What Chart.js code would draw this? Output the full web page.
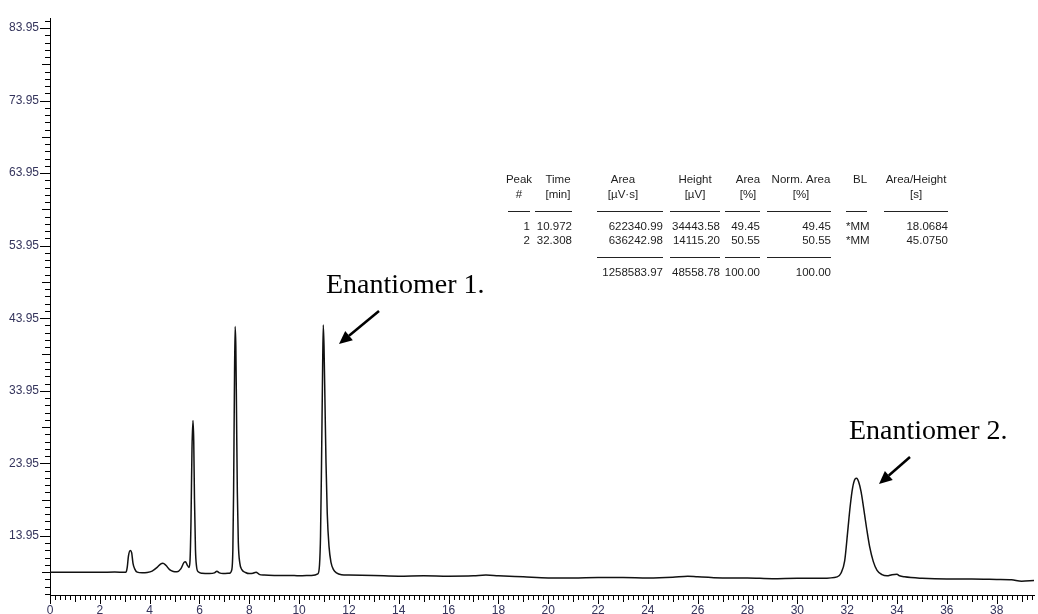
<!DOCTYPE html>
<html>
<head>
<meta charset="utf-8">
<script src="https://cdn.jsdelivr.net/npm/chart.js@4.4.1/dist/chart.umd.min.js"></script>
<style>
html,body{margin:0;padding:0;background:#fff;}
#wrap{position:relative;width:1038px;height:614px;}
canvas{display:block;}
</style>
</head>
<body>
<div id="wrap"><canvas id="c" width="1038" height="614"></canvas></div>
<script>
// ---- data ----
const retentionTime = [
  0, 1.0, 2.0, 2.6, 3.0, 3.05, 3.1, 3.15, 3.22, 3.28, 3.33, 3.4, 3.5, 3.7, 3.9,
  4.1, 4.3, 4.45, 4.53, 4.65, 4.8, 4.95, 5.1, 5.25, 5.38, 5.44, 5.5, 5.58,
  5.62, 5.66, 5.7, 5.74, 5.77, 5.8, 5.84, 5.88, 5.95, 6.1, 6.4, 6.6, 6.7, 6.8, 6.95,
  7.2, 7.3, 7.34, 7.37, 7.4, 7.43, 7.46, 7.49, 7.52, 7.56, 7.62, 7.7, 7.85, 8.0,
  8.15, 8.27, 8.4, 8.6, 9.0, 9.6, 10.0, 10.5, 10.75, 10.82, 10.86, 10.9, 10.94,
  10.97, 11.0, 11.04, 11.08, 11.13, 11.2, 11.28, 11.38, 11.5, 11.7, 12.0, 13.0,
  14.0, 15.0, 16.0, 17.0, 17.5, 18.0, 19.0, 20.0, 21.0, 22.0, 23.0, 24.0, 25.0,
  25.6, 26.0, 27.0, 28.0, 29.0, 30.0, 31.0, 31.6, 31.75, 31.9, 32.02, 32.12,
  32.22, 32.32, 32.38, 32.46, 32.56, 32.66, 32.78, 32.9, 33.05, 33.2, 33.4, 33.6,
  33.8, 34.0, 34.1, 34.3, 35.0, 36.0, 37.0, 38.0, 38.6, 39.0, 39.5
];
const signal = [
  8.95, 8.95, 8.93, 8.97, 8.92, 8.95, 9.6, 11.2, 11.95, 11.6, 10.2, 9.4, 8.95, 8.85, 8.9,
  9.1, 9.6, 10.1, 10.17, 9.9, 9.3, 9.05, 9.0, 9.4, 10.3, 10.4, 10.0, 9.6,
  10.5, 16.0, 26.0, 29.85, 27.0, 19.0, 12.0, 9.8, 9.0, 8.8, 8.75, 8.85, 9.08, 8.85, 8.75,
  8.8, 9.3, 12.0, 20.0, 33.0, 42.8, 40.0, 30.0, 20.0, 13.0, 10.2, 9.3, 8.9, 8.75,
  8.8, 8.95, 8.65, 8.55, 8.5, 8.5, 8.45, 8.5, 8.7, 10.0, 14.0, 24.0, 36.0,
  43.0, 40.0, 32.0, 24.0, 17.0, 12.5, 10.3, 9.3, 8.85, 8.6, 8.55, 8.5,
  8.4, 8.45, 8.4, 8.45, 8.55, 8.45, 8.3, 8.15, 8.15, 8.2, 8.2, 8.15, 8.25,
  8.4, 8.3, 8.15, 8.15, 8.05, 8.1, 8.1, 8.3, 8.8, 10.5, 14.5, 18.0,
  20.6, 21.8, 21.9, 21.4, 20.0, 17.8, 15.0, 12.5, 10.4, 9.2, 8.6, 8.45,
  8.6, 8.65, 8.45, 8.3, 8.1, 8.0, 8.0, 7.95, 7.9, 7.7, 7.8
];
const xTickLabels = [0, 2, 4, 6, 8, 10, 12, 14, 16, 18, 20, 22, 24, 26, 28, 30, 32, 34, 36, 38];
const yTickLabels = [13.95, 23.95, 33.95, 43.95, 53.95, 63.95, 73.95, 83.95];

const tableHeader1 = ['Peak', 'Time', 'Area', 'Height', 'Area', 'Norm. Area', 'BL', 'Area/Height'];
const tableHeader2 = ['#', '[min]', '[\u00b5V\u00b7s]', '[\u00b5V]', '[%]', '[%]', '', '[s]'];
const tableRow1 = ['1', '10.972', '622340.99', '34443.58', '49.45', '49.45', '*MM', '18.0684'];
const tableRow2 = ['2', '32.308', '636242.98', '14115.20', '50.55', '50.55', '*MM', '45.0750'];
const tableTotals = ['', '', '1258583.97', '48558.78', '100.00', '100.00', '', ''];
const peakLabels = ['Enantiomer 1.', 'Enantiomer 2.'];

// ---- layout / style ----
const colLeft   = [508, 535, 597, 670, 725, 767, 846, 884];
const colRight  = [530, 572, 663, 720, 760, 831, 867, 948];
const headCtr   = [519, 558, 623, 695, 748, 801, 860, 916];
const axisColor = '#000';
const labelColor = '#34345c';

const points = retentionTime.map((t, i) => ({x: t, y: signal[i]}));

const decor = {
  id: 'decor',
  afterDraw(chart) {
    const ctx = chart.ctx;
    const xs = chart.scales.x, ys = chart.scales.y;
    const ca = chart.chartArea;
    ctx.save();
    ctx.strokeStyle = axisColor;
    ctx.lineWidth = 1;
    // x ticks (every 0.2)
    ctx.beginPath();
    for (let i = 0; i * 0.2 <= xs.max + 1e-9; i++) {
      const px = Math.round(xs.getPixelForValue(i * 0.2)) + 0.5;
      const len = i % 10 === 0 ? 9 : (i % 5 === 0 ? 7 : 5);
      ctx.moveTo(px, ca.bottom);
      ctx.lineTo(px, ca.bottom + len);
    }
    ctx.stroke();
    // y ticks (every 1)
    ctx.beginPath();
    const base = yTickLabels[0];
    for (let k = -8; base + k <= ys.max; k++) {
      const v = base + k;
      if (v < ys.min) continue;
      const py = Math.round(ys.getPixelForValue(v)) + 0.5;
      const m = ((k % 10) + 10) % 10;
      const len = m === 0 ? 10 : (m === 5 ? 8 : 5);
      ctx.moveTo(ca.left, py);
      ctx.lineTo(ca.left - len, py);
    }
    ctx.stroke();

    // results table
    ctx.fillStyle = '#1e1e1e';
    ctx.font = '11.5px "Liberation Sans", Arial, sans-serif';
    ctx.textBaseline = 'middle';
    const rowsY = {h1: 180, h2: 195, s1: 211, r1: 227, r2: 241, s2: 257, t: 273};
    ctx.textAlign = 'center';
    tableHeader1.forEach((s, i) => ctx.fillText(s, headCtr[i], rowsY.h1));
    tableHeader2.forEach((s, i) => ctx.fillText(s, headCtr[i], rowsY.h2));
    const drawRow = (row, y) => row.forEach((s, i) => {
      if (!s) return;
      if (i === 6) { ctx.textAlign = 'left'; ctx.fillText(s, colLeft[i], y); }
      else { ctx.textAlign = 'right'; ctx.fillText(s, colRight[i], y); }
    });
    drawRow(tableRow1, rowsY.r1);
    drawRow(tableRow2, rowsY.r2);
    drawRow(tableTotals, rowsY.t);
    ctx.strokeStyle = '#222';
    ctx.beginPath();
    colLeft.forEach((l, i) => { ctx.moveTo(l, rowsY.s1 + 0.5); ctx.lineTo(colRight[i], rowsY.s1 + 0.5); });
    [2, 3, 4, 5].forEach(i => { ctx.moveTo(colLeft[i], rowsY.s2 + 0.5); ctx.lineTo(colRight[i], rowsY.s2 + 0.5); });
    ctx.stroke();

    // annotations
    ctx.fillStyle = '#000';
    ctx.font = '28px "Liberation Serif", "Times New Roman", serif';
    ctx.textAlign = 'left';
    ctx.fillText(peakLabels[0], 326, 286);
    ctx.fillText(peakLabels[1], 849, 432);
    const arrow = (x1, y1, x2, y2) => {
      const ang = Math.atan2(y2 - y1, x2 - x1);
      const hl = 13, hw = 6;
      const bx = x2 - hl * Math.cos(ang), by = y2 - hl * Math.sin(ang);
      ctx.strokeStyle = '#000';
      ctx.lineWidth = 2.5;
      ctx.beginPath(); ctx.moveTo(x1, y1); ctx.lineTo(bx, by); ctx.stroke();
      ctx.beginPath();
      ctx.moveTo(x2, y2);
      ctx.lineTo(bx + hw * Math.sin(ang), by - hw * Math.cos(ang));
      ctx.lineTo(bx - hw * Math.sin(ang), by + hw * Math.cos(ang));
      ctx.closePath(); ctx.fill();
    };
    arrow(379, 311, 339, 344);
    arrow(910, 457, 879, 484);
    ctx.restore();
  }
};

new Chart(document.getElementById('c'), {
  type: 'line',
  data: {
    datasets: [{
      data: points,
      borderColor: '#111',
      borderWidth: 1.5,
      pointRadius: 0,
      fill: false,
      cubicInterpolationMode: 'monotone'
    }]
  },
  options: {
    responsive: false,
    devicePixelRatio: 1,
    animation: false,
    layout: {padding: {top: 13, right: 4, left: 0, bottom: 0}},
    plugins: {legend: {display: false}, tooltip: {enabled: false}},
    scales: {
      x: {
        type: 'linear',
        min: 0, max: 39.5,
        grid: {display: false, drawTicks: false},
        border: {display: true, color: axisColor, width: 1},
        afterBuildTicks: s => { s.ticks = xTickLabels.map(v => ({value: v})); },
        afterFit: s => { s.height = 19; },
        ticks: {
          autoSkip: false, maxRotation: 0, padding: 8,
          color: labelColor,
          font: {family: '"Liberation Sans", Arial, sans-serif', size: 12},
          callback: v => String(v)
        }
      },
      y: {
        type: 'linear',
        min: 5.8, max: 85.3,
        grid: {display: false, drawTicks: false},
        border: {display: true, color: axisColor, width: 1},
        afterBuildTicks: s => { s.ticks = yTickLabels.map(v => ({value: v})); },
        afterFit: s => { s.width = 50; },
        ticks: {
          autoSkip: false, padding: 11,
          color: labelColor,
          font: {family: '"Liberation Sans", Arial, sans-serif', size: 12},
          callback: v => Number(v).toFixed(2)
        }
      }
    }
  },
  plugins: [decor]
});
</script>
</body>
</html>
